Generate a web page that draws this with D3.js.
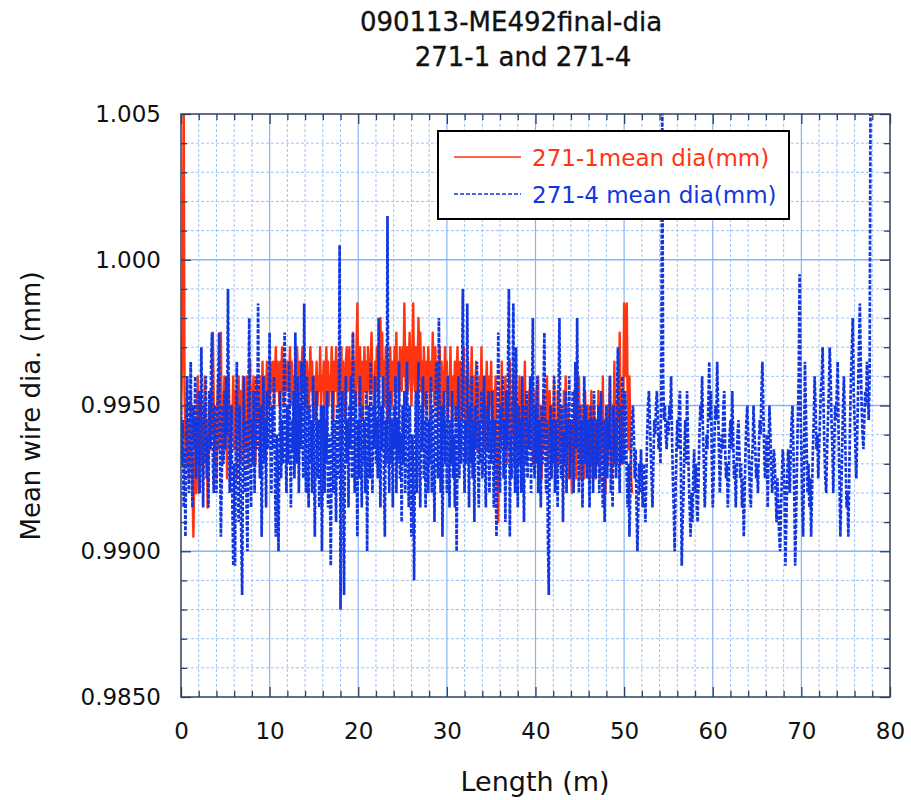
<!DOCTYPE html>
<html>
<head>
<meta charset="utf-8">
<script src="https://cdn.jsdelivr.net/npm/d3@7"></script>
<style>
  body { margin: 0; background: #fff; }
  svg { display: block; }
  text { font-family: "DejaVu Sans", sans-serif; fill: #111; }
</style>
</head>
<body>
<svg id="chart" width="911" height="800"></svg>
<script>
// ---- chart text ----
const titleLines = ["090113-ME492final-dia", "271-1 and 271-4"];
const xLabel = "Length (m)";
const yLabel = "Mean wire dia. (mm)";
const seriesNames = ["271-1mean dia(mm)", "271-4 mean dia(mm)"];

// ---- axes ----
const xTicks = [0, 10, 20, 30, 40, 50, 60, 70, 80];
const yTicks = [0.985, 0.990, 0.995, 1.000, 1.005];
const yTickLabels = ["0.9850", "0.9900", "0.9950", "1.000", "1.005"];

// one reading every 0.1 m of wire, starting at 0 m (one row = 1 m)
const sampleStep = 0.1;

// 271-1 mean diameter (mm)
const dia271_1 = [
  0.9945, 0.9960, 0.9980, 1.0060, 0.9955, 0.9935, 0.9950, 0.9930, 0.9945, 0.9925,
  0.9940, 0.9955, 0.9935, 0.9920, 0.9905, 0.9930, 0.9945, 0.9920, 0.9950, 0.9960,
  0.9920, 0.9940, 0.9955, 0.9930, 0.9945, 0.9925, 0.9950, 0.9960, 0.9935, 0.9945,
  0.9915, 0.9930, 0.9950, 0.9935, 0.9955, 0.9940, 0.9975, 0.9950, 0.9930, 0.9945,
  0.9925, 0.9950, 0.9960, 0.9935, 0.9955, 0.9975, 0.9940, 0.9930, 0.9950, 0.9960,
  0.9935, 0.9945, 0.9925, 0.9955, 0.9960, 0.9940, 0.9930, 0.9950, 0.9945, 0.9960,
  0.9935, 0.9955, 0.9945, 0.9925, 0.9950, 0.9960, 0.9940, 0.9955, 0.9930, 0.9945,
  0.9960, 0.9940, 0.9950, 0.9935, 0.9960, 0.9945, 0.9930, 0.9955, 0.9965, 0.9945,
  0.9935, 0.9955, 0.9960, 0.9940, 0.9930, 0.9950, 0.9960, 0.9945, 0.9955, 0.9935,
  0.9960, 0.9950, 0.9965, 0.9945, 0.9935, 0.9960, 0.9955, 0.9965, 0.9950, 0.9960,
  0.9950, 0.9965, 0.9960, 0.9955, 0.9965, 0.9950, 0.9960, 0.9970, 0.9955, 0.9965,
  0.9960, 0.9950, 0.9965, 0.9955, 0.9970, 0.9960, 0.9950, 0.9965, 0.9960, 0.9955,
  0.9965, 0.9955, 0.9960, 0.9970, 0.9950, 0.9965, 0.9955, 0.9960, 0.9945, 0.9965,
  0.9955, 0.9970, 0.9960, 0.9950, 0.9965, 0.9955, 0.9960, 0.9970, 0.9955, 0.9965,
  0.9960, 0.9950, 0.9965, 0.9955, 0.9945, 0.9960, 0.9970, 0.9955, 0.9965, 0.9950,
  0.9960, 0.9945, 0.9955, 0.9965, 0.9950, 0.9960, 0.9955, 0.9970, 0.9950, 0.9960,
  0.9955, 0.9965, 0.9945, 0.9960, 0.9970, 0.9955, 0.9965, 0.9950, 0.9960, 0.9955,
  0.9970, 0.9960, 0.9945, 0.9965, 0.9955, 0.9970, 0.9960, 0.9950, 0.9965, 0.9955,
  0.9960, 0.9970, 0.9950, 0.9965, 0.9955, 0.9945, 0.9965, 0.9970, 0.9955, 0.9960,
  0.9970, 0.9950, 0.9965, 0.9960, 0.9975, 0.9955, 0.9965, 0.9950, 0.9970, 0.9985,
  0.9960, 0.9950, 0.9970, 0.9955, 0.9965, 0.9945, 0.9960, 0.9970, 0.9955, 0.9965,
  0.9950, 0.9970, 0.9960, 0.9955, 0.9965, 0.9975, 0.9955, 0.9960, 0.9945, 0.9965,
  0.9955, 0.9970, 0.9960, 0.9950, 0.9965, 0.9980, 0.9960, 0.9975, 0.9955, 0.9965,
  0.9950, 0.9970, 0.9960, 0.9945, 0.9965, 0.9955, 0.9970, 0.9960, 0.9950, 0.9965,
  0.9955, 0.9970, 0.9960, 0.9975, 0.9955, 0.9965, 0.9950, 0.9970, 0.9960, 0.9955,
  0.9970, 0.9960, 0.9985, 0.9965, 0.9950, 0.9970, 0.9955, 0.9965, 0.9975, 0.9960,
  0.9950, 0.9965, 0.9985, 0.9960, 0.9955, 0.9970, 0.9950, 0.9965, 0.9980, 0.9960,
  0.9975, 0.9955, 0.9965, 0.9945, 0.9970, 0.9960, 0.9950, 0.9965, 0.9955, 0.9970,
  0.9960, 0.9945, 0.9965, 0.9955, 0.9975, 0.9960, 0.9950, 0.9970, 0.9955, 0.9965,
  0.9945, 0.9960, 0.9970, 0.9950, 0.9965, 0.9955, 0.9940, 0.9960, 0.9970, 0.9955,
  0.9965, 0.9945, 0.9960, 0.9950, 0.9970, 0.9955, 0.9940, 0.9960, 0.9950, 0.9965,
  0.9945, 0.9960, 0.9970, 0.9950, 0.9940, 0.9965, 0.9955, 0.9945, 0.9960, 0.9970,
  0.9950, 0.9940, 0.9960, 0.9955, 0.9965, 0.9945, 0.9935, 0.9955, 0.9970, 0.9950,
  0.9940, 0.9960, 0.9950, 0.9965, 0.9945, 0.9935, 0.9955, 0.9960, 0.9945, 0.9970,
  0.9950, 0.9940, 0.9960, 0.9935, 0.9955, 0.9965, 0.9945, 0.9935, 0.9960, 0.9950,
  0.9965, 0.9945, 0.9955, 0.9935, 0.9950, 0.9960, 0.9940, 0.9925, 0.9910, 0.9940,
  0.9955, 0.9945, 0.9965, 0.9940, 0.9950, 0.9935, 0.9960, 0.9945, 0.9930, 0.9955,
  0.9945, 0.9965, 0.9935, 0.9950, 0.9940, 0.9960, 0.9930, 0.9945, 0.9955, 0.9935,
  0.9950, 0.9940, 0.9960, 0.9930, 0.9945, 0.9955, 0.9935, 0.9950, 0.9965, 0.9940,
  0.9930, 0.9950, 0.9940, 0.9955, 0.9935, 0.9945, 0.9960, 0.9930, 0.9950, 0.9940,
  0.9955, 0.9935, 0.9945, 0.9960, 0.9930, 0.9950, 0.9940, 0.9925, 0.9945, 0.9955,
  0.9935, 0.9950, 0.9940, 0.9960, 0.9930, 0.9945, 0.9955, 0.9935, 0.9925, 0.9950,
  0.9940, 0.9960, 0.9935, 0.9945, 0.9925, 0.9955, 0.9940, 0.9930, 0.9950, 0.9935,
  0.9945, 0.9925, 0.9955, 0.9935, 0.9960, 0.9940, 0.9930, 0.9950, 0.9925, 0.9945,
  0.9935, 0.9920, 0.9945, 0.9930, 0.9955, 0.9940, 0.9925, 0.9950, 0.9935, 0.9960,
  0.9940, 0.9925, 0.9950, 0.9935, 0.9945, 0.9925, 0.9955, 0.9940, 0.9930, 0.9950,
  0.9935, 0.9945, 0.9925, 0.9955, 0.9940, 0.9930, 0.9950, 0.9935, 0.9925, 0.9945,
  0.9930, 0.9955, 0.9940, 0.9925, 0.9945, 0.9935, 0.9960, 0.9930, 0.9945, 0.9920,
  0.9940, 0.9950, 0.9930, 0.9945, 0.9960, 0.9935, 0.9925, 0.9950, 0.9940, 0.9965,
  0.9935, 0.9950, 0.9930, 0.9960, 0.9945, 0.9975, 0.9940, 0.9955, 0.9930, 0.9950,
  0.9985, 0.9960, 0.9975, 0.9985, 0.9950, 0.9935, 0.9960, 0.9940, 0.9925, 0.9920
];

// 271-4 mean diameter (mm)
const dia271_4 = [
  0.9950, 0.9930, 0.9945, 0.9915, 0.9935, 0.9905, 0.9940, 0.9960, 0.9935, 0.9920,
  0.9945, 0.9965, 0.9930, 0.9915, 0.9950, 0.9935, 0.9960, 0.9925, 0.9945, 0.9930,
  0.9955, 0.9920, 0.9940, 0.9970, 0.9935, 0.9915, 0.9950, 0.9930, 0.9960, 0.9925,
  0.9940, 0.9915, 0.9955, 0.9935, 0.9965, 0.9975, 0.9930, 0.9920, 0.9950, 0.9935,
  0.9920, 0.9945, 0.9960, 0.9975, 0.9935, 0.9905, 0.9925, 0.9950, 0.9930, 0.9955,
  0.9935, 0.9960, 0.9940, 0.9990, 0.9945, 0.9920, 0.9935, 0.9950, 0.9915, 0.9895,
  0.9930, 0.9895, 0.9945, 0.9965, 0.9930, 0.9910, 0.9950, 0.9925, 0.9905, 0.9885,
  0.9935, 0.9960, 0.9920, 0.9945, 0.9915, 0.9900, 0.9950, 0.9980, 0.9935, 0.9915,
  0.9945, 0.9930, 0.9955, 0.9920, 0.9940, 0.9960, 0.9935, 0.9985, 0.9940, 0.9925,
  0.9950, 0.9905, 0.9935, 0.9960, 0.9930, 0.9945, 0.9915, 0.9955, 0.9935, 0.9950,
  0.9975, 0.9940, 0.9920, 0.9950, 0.9935, 0.9960, 0.9925, 0.9905, 0.9940, 0.9930,
  0.9900, 0.9935, 0.9955, 0.9925, 0.9945, 0.9930, 0.9960, 0.9975, 0.9935, 0.9920,
  0.9950, 0.9930, 0.9965, 0.9940, 0.9915, 0.9945, 0.9935, 0.9955, 0.9925, 0.9975,
  0.9945, 0.9930, 0.9960, 0.9920, 0.9950, 0.9935, 0.9965, 0.9940, 0.9925, 0.9985,
  0.9945, 0.9920, 0.9960, 0.9935, 0.9915, 0.9950, 0.9930, 0.9945, 0.9920, 0.9960,
  0.9935, 0.9905, 0.9940, 0.9955, 0.9925, 0.9945, 0.9915, 0.9935, 0.9950, 0.9900,
  0.9930, 0.9950, 0.9920, 0.9945, 0.9930, 0.9955, 0.9915, 0.9940, 0.9925, 0.9895,
  0.9935, 0.9955, 0.9920, 0.9945, 0.9930, 0.9910, 0.9950, 0.9925, 0.9940, 1.0005,
  0.9880, 0.9935, 0.9955, 0.9920, 0.9885, 0.9940, 0.9960, 0.9930, 0.9945, 0.9915,
  0.9950, 0.9935, 0.9960, 0.9925, 0.9975, 0.9940, 0.9920, 0.9955, 0.9935, 0.9905,
  0.9945, 0.9925, 0.9960, 0.9935, 0.9915, 0.9950, 0.9930, 0.9945, 0.9920, 0.9955,
  0.9900, 0.9935, 0.9950, 0.9925, 0.9965, 0.9940, 0.9920, 0.9950, 0.9935, 0.9960,
  0.9930, 0.9945, 0.9925, 0.9980, 0.9940, 0.9915, 0.9950, 0.9935, 0.9960, 0.9925,
  0.9905, 0.9945, 0.9930, 1.0015, 0.9935, 0.9920, 0.9955, 0.9930, 0.9945, 0.9915,
  0.9950, 0.9935, 0.9960, 0.9920, 0.9945, 0.9930, 0.9965, 0.9925, 0.9940, 0.9910,
  0.9950, 0.9930, 0.9955, 0.9920, 0.9945, 0.9965, 0.9935, 0.9915, 0.9950, 0.9930,
  0.9905, 0.9940, 0.9925, 0.9890, 0.9935, 0.9955, 0.9920, 0.9945, 0.9965, 0.9930,
  0.9915, 0.9950, 0.9935, 0.9960, 0.9925, 0.9945, 0.9915, 0.9955, 0.9935, 0.9920,
  0.9945, 0.9930, 0.9960, 0.9920, 0.9950, 0.9935, 0.9910, 0.9945, 0.9965, 0.9935,
  0.9925, 0.9980, 0.9940, 0.9920, 0.9950, 0.9905, 0.9935, 0.9955, 0.9930, 0.9945,
  0.9920, 0.9960, 0.9935, 0.9915, 0.9945, 0.9930, 0.9955, 0.9925, 0.9940, 0.9915,
  0.9950, 0.9900, 0.9935, 0.9960, 0.9925, 0.9945, 0.9930, 0.9955, 0.9990, 0.9935,
  0.9920, 0.9945, 0.9930, 0.9985, 0.9940, 0.9915, 0.9950, 0.9930, 0.9960, 0.9925,
  0.9945, 0.9910, 0.9950, 0.9935, 0.9965, 0.9930, 0.9915, 0.9945, 0.9930, 0.9955,
  0.9925, 0.9940, 0.9960, 0.9930, 0.9915, 0.9950, 0.9935, 0.9955, 0.9920, 0.9945,
  0.9930, 0.9955, 0.9935, 0.9915, 0.9945, 0.9925, 0.9905, 0.9940, 0.9975, 0.9935,
  0.9920, 0.9950, 0.9935, 0.9960, 0.9925, 0.9945, 0.9910, 0.9955, 0.9935, 0.9965,
  0.9990, 0.9905, 0.9940, 0.9925, 0.9950, 0.9985, 0.9935, 0.9920, 0.9970, 0.9945,
  0.9915, 0.9950, 0.9930, 0.9945, 0.9920, 0.9960, 0.9935, 0.9910, 0.9950, 0.9930,
  0.9955, 0.9925, 0.9945, 0.9935, 0.9960, 0.9920, 0.9950, 0.9980, 0.9935, 0.9925,
  0.9950, 0.9930, 0.9960, 0.9920, 0.9945, 0.9935, 0.9915, 0.9950, 0.9930, 0.9955,
  0.9975, 0.9935, 0.9920, 0.9945, 0.9905, 0.9885, 0.9935, 0.9950, 0.9925, 0.9945,
  0.9930, 0.9960, 0.9920, 0.9945, 0.9935, 0.9915, 0.9955, 0.9980, 0.9940, 0.9925,
  0.9950, 0.9910, 0.9940, 0.9930, 0.9955, 0.9920, 0.9945, 0.9935, 0.9960, 0.9925,
  0.9945, 0.9930, 0.9955, 0.9920, 0.9940, 0.9965, 0.9935, 0.9980, 0.9940, 0.9920,
  0.9950, 0.9930, 0.9945, 0.9915, 0.9940, 0.9960, 0.9930, 0.9950, 0.9925, 0.9945,
  0.9935, 0.9915, 0.9950, 0.9930, 0.9945, 0.9920, 0.9955, 0.9935, 0.9925, 0.9945,
  0.9930, 0.9950, 0.9920, 0.9940, 0.9955, 0.9930, 0.9915, 0.9945, 0.9910, 0.9935,
  0.9950, 0.9925, 0.9945, 0.9935, 0.9960, 0.9920, 0.9940, 0.9915, 0.9950, 0.9930,
  0.9945, 0.9925, 0.9955, 0.9970, 0.9935, 0.9920, 0.9950, 0.9930, 0.9960, 0.9940,
  0.9930, 0.9955, 0.9945, 0.9925, 0.9915, 0.9930, 0.9905, 0.9920, 0.9935, 0.9945,
  0.9950, 0.9940, 0.9925, 0.9935, 0.9915, 0.9900, 0.9915, 0.9930, 0.9920, 0.9935,
  0.9925, 0.9915, 0.9930, 0.9920, 0.9910, 0.9925, 0.9940, 0.9950, 0.9955, 0.9945,
  0.9935, 0.9925, 0.9915, 0.9930, 0.9945, 0.9940, 0.9950, 0.9955, 0.9945, 0.9935,
  0.9940, 0.9930, 0.9960, 1.0055, 0.9960, 0.9945, 0.9950, 0.9940, 0.9935, 0.9945,
  0.9940, 0.9950, 0.9945, 0.9960, 0.9940, 0.9925, 0.9915, 0.9900, 0.9920, 0.9935,
  0.9945, 0.9935, 0.9950, 0.9955, 0.9930, 0.9895, 0.9910, 0.9920, 0.9935, 0.9945,
  0.9930, 0.9955, 0.9940, 0.9925, 0.9915, 0.9905, 0.9920, 0.9910, 0.9925, 0.9935,
  0.9920, 0.9930, 0.9915, 0.9910, 0.9925, 0.9940, 0.9950, 0.9945, 0.9960, 0.9940,
  0.9930, 0.9915, 0.9925, 0.9940, 0.9935, 0.9950, 0.9965, 0.9945, 0.9955, 0.9930,
  0.9915, 0.9925, 0.9940, 0.9950, 0.9945, 0.9965, 0.9950, 0.9935, 0.9920, 0.9930,
  0.9940, 0.9935, 0.9950, 0.9955, 0.9935, 0.9925, 0.9930, 0.9915, 0.9925, 0.9940,
  0.9945, 0.9935, 0.9955, 0.9940, 0.9925, 0.9930, 0.9915, 0.9930, 0.9940, 0.9945,
  0.9935, 0.9925, 0.9930, 0.9915, 0.9925, 0.9905, 0.9920, 0.9935, 0.9945, 0.9950,
  0.9940, 0.9930, 0.9920, 0.9915, 0.9930, 0.9935, 0.9950, 0.9940, 0.9935, 0.9925,
  0.9930, 0.9920, 0.9935, 0.9945, 0.9940, 0.9955, 0.9965, 0.9950, 0.9935, 0.9925,
  0.9930, 0.9940, 0.9915, 0.9935, 0.9950, 0.9940, 0.9930, 0.9920, 0.9925, 0.9935,
  0.9930, 0.9920, 0.9910, 0.9925, 0.9915, 0.9905, 0.9900, 0.9915, 0.9925, 0.9935,
  0.9930, 0.9920, 0.9895, 0.9910, 0.9925, 0.9935, 0.9930, 0.9920, 0.9935, 0.9945,
  0.9950, 0.9935, 0.9920, 0.9895, 0.9910, 0.9930, 0.9945, 0.9960, 0.9995, 0.9950,
  0.9935, 0.9915, 0.9905, 0.9930, 0.9965, 0.9950, 0.9935, 0.9920, 0.9930, 0.9915,
  0.9925, 0.9905, 0.9920, 0.9935, 0.9945, 0.9960, 0.9950, 0.9935, 0.9940, 0.9925,
  0.9935, 0.9945, 0.9955, 0.9960, 0.9970, 0.9950, 0.9935, 0.9925, 0.9920, 0.9935,
  0.9945, 0.9955, 0.9970, 0.9960, 0.9945, 0.9935, 0.9920, 0.9935, 0.9950, 0.9945,
  0.9955, 0.9965, 0.9940, 0.9925, 0.9905, 0.9920, 0.9935, 0.9950, 0.9960, 0.9945,
  0.9930, 0.9915, 0.9920, 0.9905, 0.9925, 0.9945, 0.9960, 0.9970, 0.9980, 0.9955,
  0.9945, 0.9935, 0.9925, 0.9940, 0.9955, 0.9970, 0.9985, 0.9965, 0.9950, 0.9940,
  0.9935, 0.9945, 0.9955, 0.9950, 0.9965, 0.9955, 0.9945, 0.9960, 1.0055
];

// ---- layout ----
const plot = { left: 181, right: 890, top: 114, bottom: 697 };
const colors = { red: "#ff3410", blue: "#1236e0", gridMajor: "#86b6f2", gridMinor: "#9cc4f6", frame: "#2e4260" };

const svg = d3.select("#chart");

const x = d3.scaleLinear().domain([0, 80]).range([plot.left, plot.right]);
const y = d3.scaleLinear().domain([0.985, 1.005]).range([plot.bottom, plot.top]);

const minorX = d3.range(0, 80.001, 2).filter(v => Math.abs(v % 10) > 1e-6);
const minorY = d3.range(0, 21).map(k => 0.985 + k * 0.001).filter(v => !yTicks.some(t => Math.abs(t - v) < 1e-7));

// grid: dashed minor, solid major
const grid = svg.append("g");
grid.selectAll(".vminor").data(minorX).join("line")
  .attr("x1", d => x(d)).attr("x2", d => x(d))
  .attr("y1", plot.top).attr("y2", plot.bottom)
  .attr("stroke", colors.gridMinor).attr("stroke-width", 1).attr("stroke-dasharray", "3,2");
grid.selectAll(".hminor").data(minorY).join("line")
  .attr("x1", plot.left).attr("x2", plot.right)
  .attr("y1", d => y(d)).attr("y2", d => y(d))
  .attr("stroke", colors.gridMinor).attr("stroke-width", 1).attr("stroke-dasharray", "3,2");
grid.selectAll(".vmajor").data(xTicks.slice(1, -1)).join("line")
  .attr("x1", d => x(d)).attr("x2", d => x(d))
  .attr("y1", plot.top).attr("y2", plot.bottom)
  .attr("stroke", colors.gridMajor).attr("stroke-width", 1.2);
grid.selectAll(".hmajor").data(yTicks.slice(1, -1)).join("line")
  .attr("x1", plot.left).attr("x2", plot.right)
  .attr("y1", d => y(d)).attr("y2", d => y(d))
  .attr("stroke", colors.gridMajor).attr("stroke-width", 1.4);

// data lines, clipped to the plot frame
svg.append("clipPath").attr("id", "plotClip").append("rect")
  .attr("x", plot.left).attr("y", plot.top)
  .attr("width", plot.right - plot.left).attr("height", plot.bottom - plot.top);

const line = d3.line()
  .x((d, i) => x(i * sampleStep))
  .y(d => y(d));

const lines = svg.append("g").attr("clip-path", "url(#plotClip)");
lines.append("path").datum(dia271_1)
  .attr("d", line).attr("fill", "none")
  .attr("stroke", colors.red).attr("stroke-width", 2.4).attr("stroke-linejoin", "round");
lines.append("path").datum(dia271_4)
  .attr("d", line).attr("fill", "none")
  .attr("stroke", colors.blue).attr("stroke-width", 2.7).attr("stroke-dasharray", "4,1.6");

// ticks on all four sides, pointing inward
function styleAxis(g) {
  g.select(".domain").remove();
  g.selectAll(".tick line").attr("stroke", colors.frame).attr("stroke-width", 1.3);
  g.selectAll(".tick text").style("font-family", '"DejaVu Sans", sans-serif').attr("fill", "#111");
}

svg.append("g").attr("transform", `translate(${plot.left},0)`)
  .call(d3.axisLeft(y).tickValues(yTicks).tickSizeInner(-10).tickSizeOuter(0).tickPadding(20)
    .tickFormat((d, i) => yTickLabels[i]))
  .call(styleAxis)
  .call(g => g.selectAll(".tick text").style("font-size", "23px"));
svg.append("g").attr("transform", `translate(${plot.left},0)`)
  .call(d3.axisLeft(y).tickValues(minorY).tickSize(-6).tickFormat(""))
  .call(styleAxis);
svg.append("g").attr("transform", `translate(${plot.right},0)`)
  .call(d3.axisRight(y).tickValues(yTicks).tickSize(-10).tickFormat(""))
  .call(styleAxis);
svg.append("g").attr("transform", `translate(${plot.right},0)`)
  .call(d3.axisRight(y).tickValues(minorY).tickSize(-6).tickFormat(""))
  .call(styleAxis);

svg.append("g").attr("transform", `translate(0,${plot.bottom})`)
  .call(d3.axisBottom(x).tickValues(xTicks).tickSizeInner(-10).tickSizeOuter(0).tickPadding(26)
    .tickFormat(d3.format("d")))
  .call(styleAxis)
  .call(g => g.selectAll(".tick text").style("font-size", "23px"));
svg.append("g").attr("transform", `translate(0,${plot.bottom})`)
  .call(d3.axisBottom(x).tickValues(minorX).tickSize(-6).tickFormat(""))
  .call(styleAxis);
svg.append("g").attr("transform", `translate(0,${plot.top})`)
  .call(d3.axisTop(x).tickValues(xTicks).tickSize(-10).tickFormat(""))
  .call(styleAxis);
svg.append("g").attr("transform", `translate(0,${plot.top})`)
  .call(d3.axisTop(x).tickValues(minorX).tickSize(-6).tickFormat(""))
  .call(styleAxis);

// frame
svg.append("rect")
  .attr("x", plot.left).attr("y", plot.top)
  .attr("width", plot.right - plot.left).attr("height", plot.bottom - plot.top)
  .attr("fill", "none").attr("stroke", colors.frame).attr("stroke-width", 1.5);

// titles
const titleStyle = t => t.attr("text-anchor", "middle").style("font-size", "26px")
  .style("stroke", "#111").style("stroke-width", "0.35px");
svg.append("text").attr("x", 511).attr("y", 31).call(titleStyle).text(titleLines[0]);
svg.append("text").attr("x", 523).attr("y", 66).call(titleStyle).text(titleLines[1]);

svg.append("text").attr("x", 535).attr("y", 791).attr("text-anchor", "middle")
  .style("font-size", "27px").text(xLabel);
svg.append("text").attr("transform", "translate(40,406) rotate(-90)").attr("text-anchor", "middle")
  .style("font-size", "26px").text(yLabel);

// legend
const legend = svg.append("g");
legend.append("rect").attr("x", 438).attr("y", 131).attr("width", 351).attr("height", 88)
  .attr("fill", "#fff").attr("stroke", "#000").attr("stroke-width", 2);
const legendItems = [
  { name: seriesNames[0], color: colors.red, dash: null, y: 157 },
  { name: seriesNames[1], color: colors.blue, dash: "4,2", y: 194 }
];
legendItems.forEach(it => {
  legend.append("line").attr("x1", 454).attr("x2", 521).attr("y1", it.y).attr("y2", it.y)
    .attr("stroke", it.color).attr("stroke-width", 1.6).attr("stroke-dasharray", it.dash);
  legend.append("text").attr("x", 532).attr("y", it.y + 9)
    .style("font-size", "23px").style("fill", it.color).text(it.name);
});
</script>
</body>
</html>
